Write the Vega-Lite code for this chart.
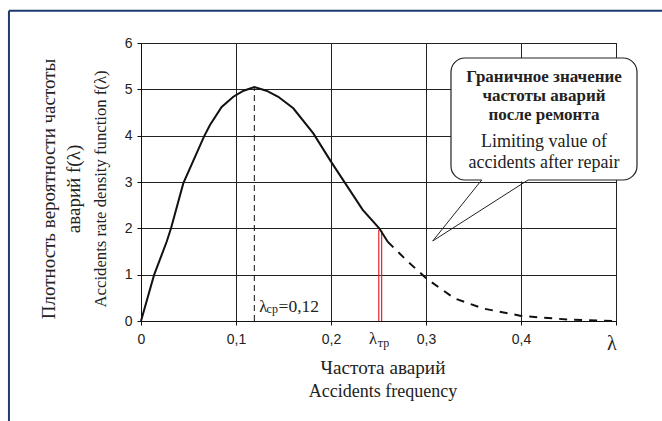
{
  "$schema": "https://vega.github.io/schema/vega-lite/v6.json",
  "width": 475,
  "height": 278,
  "autosize": {"type": "none"},
  "padding": {"left": 141, "top": 43, "right": 46, "bottom": 100},
  "background": "white",
  "config": {"view": {"stroke": "#111", "strokeWidth": 1}},
  "datasets": {
    "frameTop": [{"x": -0.139, "x2": 0.56, "y": 6.6955}],
    "frameLeft": [{"x": -0.139, "y": 6.6955, "y2": -2.3}],
    "curve": [
      {"x": 0, "y": 0, "part": "solid"},
      {"x": 0.0137, "y": 0.99, "part": "solid"},
      {"x": 0.027, "y": 1.71, "part": "solid"},
      {"x": 0.0316, "y": 2.0, "part": "solid"},
      {"x": 0.0445, "y": 2.97, "part": "solid"},
      {"x": 0.0663, "y": 3.98, "part": "solid"},
      {"x": 0.0726, "y": 4.23, "part": "solid"},
      {"x": 0.0849, "y": 4.62, "part": "solid"},
      {"x": 0.0972, "y": 4.84, "part": "solid"},
      {"x": 0.108, "y": 4.97, "part": "solid"},
      {"x": 0.1193, "y": 5.05, "part": "solid"},
      {"x": 0.132, "y": 4.97, "part": "solid"},
      {"x": 0.1445, "y": 4.84, "part": "solid"},
      {"x": 0.1603, "y": 4.59, "part": "solid"},
      {"x": 0.1814, "y": 4.05, "part": "solid"},
      {"x": 0.2, "y": 3.44, "part": "solid"},
      {"x": 0.2334, "y": 2.4, "part": "solid"},
      {"x": 0.2508, "y": 2.0, "part": "solid"},
      {"x": 0.2597, "y": 1.71, "part": "solid"},
      {"x": 0.2597, "y": 1.71, "part": "dashed"},
      {"x": 0.28, "y": 1.3, "part": "dashed"},
      {"x": 0.3003, "y": 0.92, "part": "dashed"},
      {"x": 0.3298, "y": 0.49, "part": "dashed"},
      {"x": 0.36, "y": 0.27, "part": "dashed"},
      {"x": 0.4003, "y": 0.11, "part": "dashed"},
      {"x": 0.45, "y": 0.03, "part": "dashed"},
      {"x": 0.5, "y": 0.0, "part": "dashed"}
    ],
    "meanline": [{"x": 0.1193, "y": 0, "y2": 5.05}],
    "redlines": [
      {"x": 0.2503, "y": 0, "y2": 1.97},
      {"x": 0.2533, "y": 0, "y2": 1.95}
    ],
    "box": [{"x": 0.3263, "x2": 0.5221, "y": 5.676, "y2": 3.043}],
    "eraser": [{"x": 0.3586, "x2": 0.4074, "y": 3.043}],
    "pointer": [
      {"x": 0.3586, "y": 3.043, "x2": 0.3071, "y2": 1.727},
      {"x": 0.3071, "y": 1.727, "x2": 0.4074, "y2": 3.043}
    ],
    "boldText": [{"x": 0.4242, "y": 5.16, "text": "Граничное значение|частоты аварий|после ремонта"}],
    "engText": [{"x": 0.4242, "y": 3.765, "text": "Limiting value of|accidents after repair"}],
    "lambdaMain": [
      {"x": 0.1245, "y": 0.2, "text": "λ"},
      {"x": 0.24, "y": -0.486, "text": "λ"}
    ],
    "lambdaSub": [
      {"x": 0.1322, "y": 0.166, "text": "ср"},
      {"x": 0.2492, "y": -0.561, "text": "тр"}
    ],
    "meanValue": [{"x": 0.1448, "y": 0.2, "text": "=0,12"}],
    "lambdaEnd": [{"x": 0.4955, "y": -0.626, "text": "λ"}],
    "titleRu": [
      {"x": -0.0905, "y": 2.85, "text": "Плотность вероятности частоты"},
      {"x": -0.0642, "y": 2.85, "text": "аварий  f(λ)"}
    ],
    "titleEn": [{"x": -0.0368, "y": 2.85, "text": "Accidents rate density function f(λ)"}],
    "xTitleRu": [{"x": 0.2547, "y": -1.144, "text": "Частота аварий"}],
    "xTitleEn": [{"x": 0.2547, "y": -1.64, "text": "Accidents frequency"}]
  },
  "encoding": {
    "x": {
      "field": "x",
      "type": "quantitative",
      "scale": {"domain": [0, 0.5], "nice": false, "zero": false},
      "axis": {
        "values": [0, 0.1, 0.2, 0.3, 0.4, 0.5],
        "labelExpr": "datum.value == 0 ? '0' : (datum.value > 0.45 ? '' : replace(format(datum.value, '.1f'), '.', ','))",
        "grid": true,
        "gridColor": "#222",
        "gridOpacity": 1,
        "gridWidth": 1,
        "domainColor": "#111",
        "tickColor": "#111",
        "tickSize": 4,
        "labelFlush": false,
        "labelOverlap": false,
        "labelFont": "Liberation Sans",
        "labelFontSize": 14,
        "labelColor": "#222",
        "labelPadding": 7,
        "title": null
      }
    },
    "y": {
      "field": "y",
      "type": "quantitative",
      "scale": {"domain": [0, 6], "nice": false, "zero": false},
      "axis": {
        "values": [0, 1, 2, 3, 4, 5, 6],
        "grid": true,
        "gridColor": "#222",
        "gridOpacity": 1,
        "gridWidth": 1,
        "domainColor": "#111",
        "tickColor": "#111",
        "tickSize": 4,
        "labelFlush": false,
        "labelOverlap": false,
        "labelFont": "Liberation Sans",
        "labelFontSize": 14,
        "labelColor": "#222",
        "labelPadding": 5,
        "title": null
      }
    }
  },
  "layer": [
    {
      "data": {"name": "frameTop"},
      "mark": {"type": "rule", "stroke": "#1f3a6e", "strokeWidth": 2, "clip": false},
      "encoding": {"x2": {"field": "x2"}}
    },
    {
      "data": {"name": "frameLeft"},
      "mark": {"type": "rule", "stroke": "#1f3a6e", "strokeWidth": 2, "clip": false},
      "encoding": {"y2": {"field": "y2"}}
    },
    {
      "data": {"name": "meanline"},
      "mark": {"type": "rule", "stroke": "#111", "strokeWidth": 1, "strokeDash": [6, 4]},
      "encoding": {"y2": {"field": "y2"}}
    },
    {
      "data": {"name": "redlines"},
      "mark": {"type": "rule", "stroke": "#e8202a", "strokeWidth": 1.2},
      "encoding": {"y2": {"field": "y2"}}
    },
    {
      "data": {"name": "curve"},
      "transform": [{"filter": "datum.part == 'solid'"}],
      "mark": {"type": "line", "stroke": "#111", "strokeWidth": 2},
      "encoding": {}
    },
    {
      "data": {"name": "curve"},
      "transform": [{"filter": "datum.part == 'dashed'"}],
      "mark": {"type": "line", "stroke": "#111", "strokeWidth": 2, "strokeDash": [8, 7]},
      "encoding": {}
    },
    {
      "data": {"name": "box"},
      "mark": {"type": "rect", "fill": "white", "stroke": "#222", "strokeWidth": 1.2, "cornerRadius": 14, "clip": false},
      "encoding": {"x2": {"field": "x2"}, "y2": {"field": "y2"}}
    },
    {
      "data": {"name": "eraser"},
      "mark": {"type": "rule", "stroke": "white", "strokeWidth": 3, "clip": false},
      "encoding": {"x2": {"field": "x2"}}
    },
    {
      "data": {"name": "pointer"},
      "mark": {"type": "rule", "stroke": "#222", "strokeWidth": 1},
      "encoding": {"x2": {"field": "x2"}, "y2": {"field": "y2"}}
    },
    {
      "data": {"name": "boldText"},
      "mark": {"type": "text", "font": "Liberation Serif", "fontSize": 17, "fontWeight": "bold", "color": "#222", "align": "center", "baseline": "alphabetic", "lineBreak": "|", "lineHeight": 19, "clip": false},
      "encoding": {"text": {"field": "text"}}
    },
    {
      "data": {"name": "engText"},
      "mark": {"type": "text", "font": "Liberation Serif", "fontSize": 18, "color": "#222", "align": "center", "baseline": "alphabetic", "lineBreak": "|", "lineHeight": 21.6, "clip": false},
      "encoding": {"text": {"field": "text"}}
    },
    {
      "data": {"name": "lambdaMain"},
      "mark": {"type": "text", "font": "Liberation Serif", "fontSize": 16.5, "color": "#222", "align": "left", "baseline": "alphabetic", "clip": false},
      "encoding": {"text": {"field": "text"}}
    },
    {
      "data": {"name": "lambdaSub"},
      "mark": {"type": "text", "font": "Liberation Serif", "fontSize": 12, "color": "#222", "align": "left", "baseline": "alphabetic", "clip": false},
      "encoding": {"text": {"field": "text"}}
    },
    {
      "data": {"name": "meanValue"},
      "mark": {"type": "text", "font": "Liberation Serif", "fontSize": 17.5, "color": "#222", "align": "left", "baseline": "alphabetic", "clip": false},
      "encoding": {"text": {"field": "text"}}
    },
    {
      "data": {"name": "lambdaEnd"},
      "mark": {"type": "text", "font": "Liberation Serif", "fontSize": 20, "color": "#222", "align": "center", "baseline": "alphabetic", "clip": false},
      "encoding": {"text": {"field": "text"}}
    },
    {
      "data": {"name": "titleRu"},
      "mark": {"type": "text", "font": "Liberation Serif", "fontSize": 19, "color": "#222", "align": "center", "baseline": "alphabetic", "angle": 270, "clip": false},
      "encoding": {"text": {"field": "text"}}
    },
    {
      "data": {"name": "titleEn"},
      "mark": {"type": "text", "font": "Liberation Serif", "fontSize": 16.7, "color": "#222", "align": "center", "baseline": "alphabetic", "angle": 270, "clip": false},
      "encoding": {"text": {"field": "text"}}
    },
    {
      "data": {"name": "xTitleRu"},
      "mark": {"type": "text", "font": "Liberation Serif", "fontSize": 19.2, "color": "#222", "align": "center", "baseline": "alphabetic", "clip": false},
      "encoding": {"text": {"field": "text"}}
    },
    {
      "data": {"name": "xTitleEn"},
      "mark": {"type": "text", "font": "Liberation Serif", "fontSize": 18, "color": "#222", "align": "center", "baseline": "alphabetic", "clip": false},
      "encoding": {"text": {"field": "text"}}
    }
  ]
}
